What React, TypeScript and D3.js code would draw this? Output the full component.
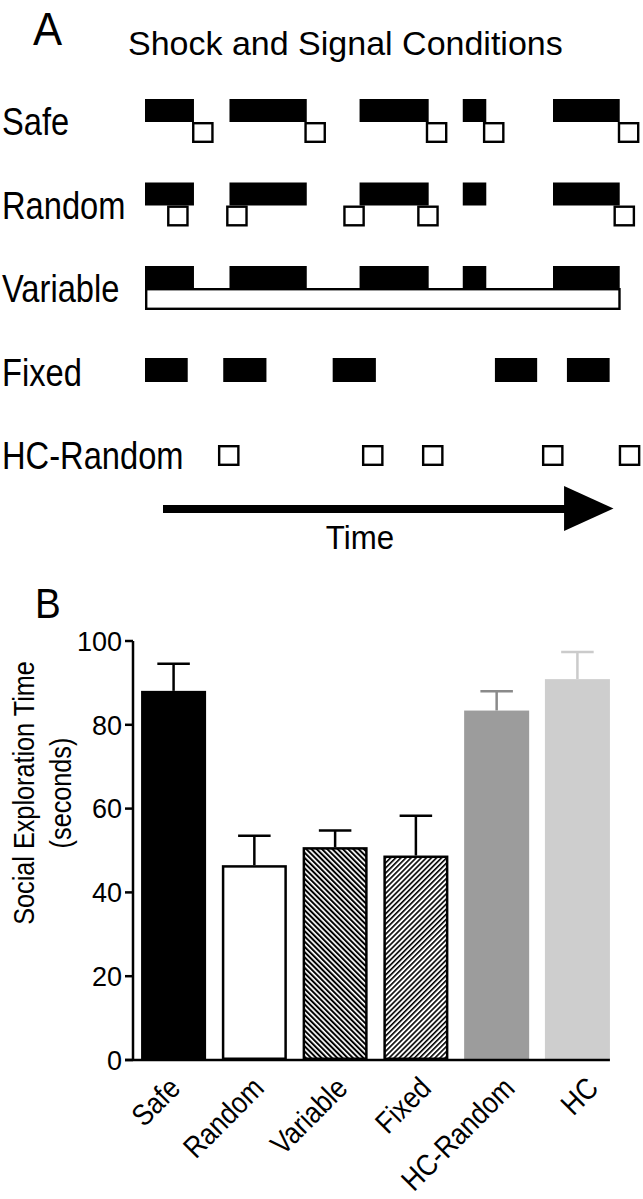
import React from 'react'
import * as d3 from 'd3'

// Panel A: schedule of shocks (black bars) and signals (open squares), in time units
const rows = ['Safe', 'Random', 'Variable', 'Fixed', 'HC-Random']
const shockBouts: [number, number][] = [
  [0, 10.2],
  [17.6, 33.7],
  [44.7, 59.1],
  [66.2, 71.1],
  [85, 98.9],
]
const safeSignals = [9.8, 33.2, 58.5, 70.4, 98.5]
const randomSignals = [4.6, 16.9, 41.3, 56.7, 97.6]
const variableSignal: [number, number] = [0, 99.1]
const fixedShocks: [number, number][] = [
  [0, 8.9],
  [16.3, 25.3],
  [39.1, 48.1],
  [72.9, 81.7],
  [87.9, 96.8],
]
const hcRandomSignals = [15.2, 45.2, 57.7, 82.7, 98.7]
const signalLength = 4.5

// Panel B: social exploration time
const groups = ['Safe', 'Random', 'Variable', 'Fixed', 'HC-Random', 'HC']
const means = [88.1, 46.5, 50.8, 48.8, 83.4, 90.9]
const sems = [6.5, 7.0, 4.0, 9.5, 4.6, 6.5]
const yTicks = [0, 20, 40, 60, 80, 100]

const FONT = '"Liberation Sans", Arial, Helvetica, sans-serif'

// narrow-ish text: the figure uses a condensed Helvetica
function CText({
  x,
  y,
  size,
  sx = 0.86,
  rotate = 0,
  anchor = 'start',
  children,
}: {
  x: number
  y: number
  size: number
  sx?: number
  rotate?: number
  anchor?: string
  children: React.ReactNode
}) {
  return (
    <text
      transform={`translate(${x},${y}) rotate(${rotate}) scale(${sx},1)`}
      fontSize={size}
      textAnchor={anchor}
    >
      {children}
    </text>
  )
}

export default function App() {
  const t = d3.scaleLinear().domain([0, 100]).range([145, 625])
  const row = d3.scalePoint<string>().domain(rows).range([133, 467])

  const x = d3
    .scaleBand<string>()
    .domain(groups)
    .range([133, 618])
    .paddingInner(0.195)
    .paddingOuter(0.1)
  const y = d3.scaleLinear().domain([0, 100]).range([1060, 641])
  const labelX = d3.scalePoint<string>().domain(groups).range([182, 600])

  const fills = ['#000', '#fff', 'url(#hatchBack)', 'url(#hatchFwd)', '#9c9c9c', '#cecece']
  const strokes = ['#000', '#000', '#000', '#000', 'none', 'none']
  const errColors = ['#000', '#000', '#000', '#000', '#8a8a8a', '#cbcbcb']

  const sq = t(signalLength) - t(0)

  const shockRow = (name: string, key: string) => {
    const b = row(name)!
    return shockBouts.map((d, i) => (
      <rect key={key + i} x={t(d[0])} y={b - 34} width={t(d[1]) - t(d[0])} height={23} fill="#000" />
    ))
  }
  const squares = (name: string, onsets: number[], top: number, key: string) => {
    const b = row(name)!
    return onsets.map((s, i) => (
      <rect
        key={key + i}
        x={t(s) + 1.2}
        y={b + top + 1.2}
        width={sq - 2.4}
        height={21 - 2.4}
        fill="#fff"
        stroke="#000"
        strokeWidth={2.4}
      />
    ))
  }

  const bVar = row('Variable')!
  const bFix = row('Fixed')!

  return (
    <div style={{ position: 'absolute', left: 0, top: 0 }}>
      <svg width={643} height={1199} style={{ fontFamily: FONT, display: 'block' }}>
        <defs>
          <pattern id="hatchBack" width={3.7} height={3.7} patternUnits="userSpaceOnUse" patternTransform="rotate(-45)">
            <rect width={3.7} height={3.7} fill="#fff" />
            <rect width={2} height={3.7} fill="#000" />
          </pattern>
          <pattern id="hatchFwd" width={3.6} height={3.6} patternUnits="userSpaceOnUse" patternTransform="rotate(45)">
            <rect width={3.6} height={3.6} fill="#fff" />
            <rect width={1.6} height={3.6} fill="#000" />
          </pattern>
        </defs>

        {/* Panel A */}
        <CText x={33} y={45} size={46} sx={0.95}>A</CText>
        <text x={128} y={55} fontSize={34}>Shock and Signal Conditions</text>
        {rows.map((r) => (
          <CText key={r} x={2} y={row(r)! + 2} size={38}>{r}</CText>
        ))}

        {shockRow('Safe', 's')}
        {squares('Safe', safeSignals, -11, 'ss')}

        {shockRow('Random', 'r')}
        {squares('Random', randomSignals, -11, 'rs')}

        {shockRow('Variable', 'v')}
        <rect
          x={t(variableSignal[0]) + 1.2}
          y={bVar - 12 + 1.2}
          width={t(variableSignal[1]) - t(variableSignal[0]) - 2.4}
          height={22 - 2.4}
          fill="#fff"
          stroke="#000"
          strokeWidth={2.4}
        />

        {fixedShocks.map((d, i) => (
          <rect key={'f' + i} x={t(d[0])} y={bFix - 25.5} width={t(d[1]) - t(d[0])} height={24} fill="#000" />
        ))}

        {squares('HC-Random', hcRandomSignals, -22, 'h')}

        {/* time arrow */}
        <line x1={t(3.75)} x2={t(87.5)} y1={509} y2={509} stroke="#000" strokeWidth={8} />
        <path d={`M${t(87.3)},486 L${t(97.6)},508.5 L${t(87.3)},531 Z`} fill="#000" />
        <CText x={360} y={549} size={34} sx={0.92} anchor="middle">Time</CText>

        {/* Panel B */}
        <CText x={35} y={618} size={42} sx={0.92}>B</CText>

        <CText x={34} y={793} size={29} sx={0.87} rotate={-90} anchor="middle">Social Exploration Time</CText>
        <CText x={71} y={793} size={29} sx={0.87} rotate={-90} anchor="middle">(seconds)</CText>

        {groups.map((g, i) => {
          const x0 = x(g)!
          const w = x.bandwidth()
          const top = y(means[i])
          const hasStroke = strokes[i] !== 'none'
          const inset = hasStroke ? 1.25 : 0
          return (
            <g key={g}>
              <line
                x1={x0 + w / 2}
                x2={x0 + w / 2}
                y1={top}
                y2={y(means[i] + sems[i])}
                stroke={errColors[i]}
                strokeWidth={2.5}
              />
              <line
                x1={x0 + w / 4}
                x2={x0 + (3 * w) / 4}
                y1={y(means[i] + sems[i])}
                y2={y(means[i] + sems[i])}
                stroke={errColors[i]}
                strokeWidth={2.5}
              />
              <rect
                x={x0 + inset}
                y={top + inset}
                width={w - 2 * inset}
                height={y(0) - top - 2 * inset}
                fill={fills[i]}
                stroke={strokes[i]}
                strokeWidth={2.5}
              />
            </g>
          )
        })}

        {/* axes */}
        <line x1={133} x2={133} y1={y(100)} y2={y(0)} stroke="#000" strokeWidth={2.5} />
        <line x1={125} x2={x(groups[groups.length - 1])! + x.bandwidth()} y1={y(0)} y2={y(0)} stroke="#000" strokeWidth={2.5} />
        {yTicks.map((v) => (
          <g key={v}>
            <line x1={125} x2={133} y1={y(v)} y2={y(v)} stroke="#000" strokeWidth={2.5} />
            <text x={122} y={y(v)} dy="0.36em" fontSize={27} textAnchor="end">{v}</text>
          </g>
        ))}
        {groups.map((g) => (
          <CText key={g} x={labelX(g)!} y={1090} size={30} sx={0.87} rotate={-45} anchor="end">
            {g}
          </CText>
        ))}
      </svg>
    </div>
  )
}
